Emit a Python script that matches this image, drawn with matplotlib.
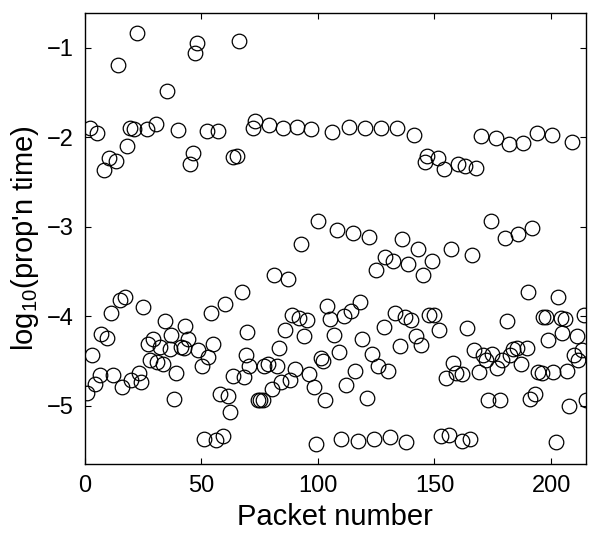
import matplotlib
matplotlib.use('Agg')
from matplotlib import pyplot as plt

# packet index and log10 proportion of time
packet = [1.1, 2.2, 3.3, 4.3, 5.2, 6.6, 7.1, 8.3, 9.5, 10.5, 11.5, 12.3, 13.3, 14.3, 15.2,
          16.2, 17.2, 18.0, 19.5, 20.0, 21.2, 22.3, 23.3, 24.3, 25.1, 26.6, 27.2, 28.1, 29.1,
          30.5, 30.9, 32.4, 33.4, 34.4, 35.1, 36.7, 37.2, 38.4, 39.1, 40.1, 41.3, 42.4, 43.1,
          44.1, 45.1, 46.3, 47.3, 48.3, 48.8, 50.3, 51.3, 52.3, 53.0, 54.1, 54.9, 56.3, 57.2,
          58.2, 59.4, 60.2, 61.3, 62.3, 63.6, 63.7, 65.2, 66.0, 67.3, 68.2, 69.2, 69.5, 70.6,
          72.1, 73.1, 74.2, 75.3, 76.3, 77.1, 78.5, 79.2, 80.2, 81.0, 82.4, 83.2, 84.2, 85.2,
          85.9, 87.4, 88.2, 89.0, 90.0, 91.1, 92.1, 92.8, 94.0, 95.4, 96.1, 97.1, 98.2, 99.3,
          100.0, 101.4, 102.1, 103.1, 104.0, 105.0, 106.1, 107.1, 108.1, 109.0, 110.0, 111.0,
          112.2, 113.2, 114.3, 115.0, 116.0, 117.2, 117.9, 119.0, 120.0, 121.2, 121.9, 123.2,
          124.0, 125.1, 125.8, 126.9, 128.3, 128.9, 130.0, 131.1, 132.2, 132.9, 133.9, 135.0,
          136.0, 137.2, 137.9, 138.6, 139.8, 141.1, 142.2, 142.9, 144.1, 145.1, 146.1, 147.0,
          147.5, 148.9, 149.8, 151.3, 152.0, 153.0, 154.1, 155.1, 156.1, 157.0, 158.0, 159.4,
          160.1, 161.6, 162.0, 163.0, 164.0, 165.1, 165.9, 166.9, 168.0, 169.0, 169.9, 170.9,
          171.9, 172.8, 174.2, 174.8, 176.2, 177.0, 178.0, 178.8, 180.1, 180.9, 181.9, 182.3,
          183.7, 185.2, 186.0, 186.9, 188.1, 189.5, 189.9, 190.9, 192.0, 193.1, 193.8, 194.5,
          195.9, 196.7, 197.7, 198.8, 200.3, 200.9, 202.0, 202.8, 204.3, 204.8, 206.0, 207.0,
          207.8, 208.8, 210.0, 211.0, 211.7, 213.1, 213.9, 214.9]
log_prop = [-4.855, -1.895, -4.43, -4.76, -1.947, -4.66, -4.20, -2.36, -4.24, -2.23, -3.96,
            -4.66, -2.27, -1.197, -3.82, -4.79, -3.79, -2.10, -1.895, -4.71, -1.91, -0.84,
            -4.63, -4.73, -3.90, -1.91, -4.31, -4.49, -4.25, -1.85, -4.51, -4.34, -4.53, -4.05,
            -1.48, -4.37, -4.21, -4.92, -4.63, -1.915, -4.34, -4.35, -4.11, -4.25, -2.30, -2.17,
            -1.06, -0.95, -4.38, -4.55, -5.37, -1.93, -4.45, -3.96, -4.31, -5.38, -1.93, -4.87,
            -5.34, -3.86, -4.89, -5.07, -2.22, -4.67, -2.21, -0.92, -3.73, -4.68, -4.43, -4.17,
            -4.56, -1.895, -1.82, -4.93, -4.93, -4.93, -4.56, -4.53, -1.86, -4.81, -3.54, -4.55,
            -4.35, -4.73, -1.90, -4.15, -3.58, -4.71, -3.98, -4.59, -1.88, -4.02, -3.19, -4.22,
            -4.04, -4.64, -1.91, -4.79, -5.43, -2.93, -4.47, -4.50, -4.93, -3.89, -4.03, -1.94,
            -4.21, -3.04, -4.40, -5.37, -4.00, -4.77, -1.88, -3.94, -3.07, -4.61, -5.39, -3.84,
            -4.25, -1.90, -4.91, -3.11, -4.42, -5.37, -3.48, -4.55, -1.90, -4.12, -3.34, -4.61,
            -5.35, -3.38, -3.96, -1.90, -4.33, -3.14, -4.01, -5.40, -3.42, -4.04, -1.97, -4.22,
            -3.25, -4.32, -3.54, -2.28, -2.21, -3.99, -3.38, -3.99, -2.23, -4.15, -5.34, -2.35,
            -4.69, -5.33, -3.25, -4.52, -4.63, -2.30, -4.64, -5.39, -2.32, -4.13, -5.37, -3.32,
            -4.38, -2.34, -4.62, -1.98, -4.43, -4.49, -4.93, -2.94, -4.42, -2.01, -4.58, -4.93,
            -4.49, -3.12, -4.05, -2.07, -4.43, -4.36, -4.35, -3.08, -4.53, -2.06, -4.35, -3.73,
            -4.92, -3.01, -4.87, -1.95, -4.62, -4.63, -4.01, -4.01, -4.26, -1.97, -4.62, -5.41,
            -3.79, -4.02, -4.19, -4.03, -4.61, -5.00, -2.05, -4.43, -4.22, -4.49, -4.38, -3.99,
            -4.93]

x_ticks = [0, 50, 100, 150, 200]
y_ticks = [-5, -4, -3, -2, -1]

plt.rcParams['font.family'] = ['Liberation Sans', 'DejaVu Sans']
plt.rcParams['mathtext.fontset'] = 'custom'
plt.rcParams['mathtext.rm'] = 'Liberation Sans'
plt.rcParams['mathtext.default'] = 'regular'

fig = plt.figure(figsize=(5.92, 5.37), dpi=100)
ax = fig.add_axes([0.143, 0.136, 0.847, 0.840])

ax.plot(packet, log_prop, 'o', mfc='none', mec='black', ms=10.5, mew=0.9)

ax.set_xlim(0, 215)
ax.set_ylim(-5.65, -0.61)
ax.set_xticks(x_ticks)
ax.set_yticks(y_ticks)
ax.tick_params(direction='in', top=True, right=True, length=4, width=0.8,
               labelsize=17, pad=8)
for s in ax.spines.values():
    s.set_linewidth(1.0)

ax.set_xlabel('Packet number', fontsize=21, labelpad=4)
ax.set_ylabel("log$_{10}$(prop'n time)", fontsize=21, labelpad=4)

fig.savefig('out.png', dpi=100)
